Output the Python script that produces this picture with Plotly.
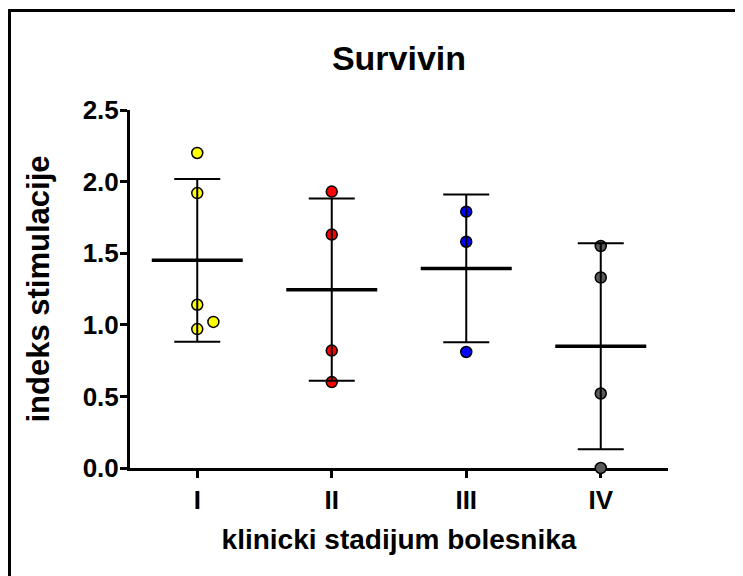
import numpy as np
import plotly.graph_objects as go

# ---- data ----
stages = ["I", "II", "III", "IV"]
stage_pos = [1, 2, 3, 4]
values_I = [2.20, 1.92, 1.14, 0.97, 1.02]
values_II = [1.93, 1.63, 0.82, 0.60]
values_III = [1.79, 1.58, 0.81]
values_IV = [1.55, 1.33, 0.52, 0.0]
jitter_I = [0, 0, 0, 0, 0.12]
jitter_II = [0, 0, 0, 0]
jitter_III = [0, 0, 0]
jitter_IV = [0, 0, 0, 0]
colors = ["#FFFF00", "#FF0000", "#0000FF", "#5A5A5A"]
y_ticks = [0.0, 0.5, 1.0, 1.5, 2.0, 2.5]

groups = [values_I, values_II, values_III, values_IV]
jitters = [jitter_I, jitter_II, jitter_III, jitter_IV]

FONT = "Arial, 'Liberation Sans', Helvetica, sans-serif"
W, H = 735, 568

fig = go.Figure()

# points
for pos, vals, jit, col in zip(stage_pos, groups, jitters, colors):
    fig.add_trace(go.Scatter(
        x=[pos + j for j in jit], y=vals, mode="markers",
        marker=dict(size=11, color=col, line=dict(color="black", width=1.5)),
        cliponaxis=False, showlegend=False, hoverinfo="y"))

# mean +/- SD
means = [float(np.mean(v)) for v in groups]
sds = [float(np.std(v, ddof=1)) for v in groups]
fig.add_trace(go.Scatter(
    x=stage_pos, y=means, mode="markers",
    marker=dict(symbol="line-ew", size=65, color="black",
                line=dict(color="black", width=3.5)),
    error_y=dict(type="data", array=sds, visible=True, color="black",
                 thickness=2, width=23),
    cliponaxis=False, showlegend=False, hoverinfo="y"))

fig.update_layout(
    width=W, height=H,
    margin=dict(l=122, r=75, t=102, b=108),
    paper_bgcolor="white", plot_bgcolor="white",
    font=dict(family=FONT, color="black"),
    title=dict(text="<b>Survivin</b>", x=0.5, xref="paper",
               y=1 - 50 / H, yref="container", yanchor="middle",
               font=dict(size=34, family=FONT, color="black")),
    xaxis=dict(range=[0.5, 4.5], tickmode="array", tickvals=stage_pos,
               ticktext=["<b>%s</b>" % s for s in stages],
               showline=True, linecolor="black", linewidth=3,
               ticks="outside", ticklen=7, tickwidth=2.5, tickcolor="black",
               showgrid=False, zeroline=False, layer="below traces",
               tickfont=dict(size=26, family=FONT, color="black"),
               title=dict(text="<b>klinicki stadijum bolesnika</b>",
                          font=dict(size=28, family=FONT, color="black"),
                          standoff=16)),
    yaxis=dict(range=[0, 2.5], tickmode="array", tickvals=y_ticks,
               ticktext=["<b>%.1f</b>" % v for v in y_ticks],
               showline=True, linecolor="black", linewidth=3,
               ticks="outside", ticklen=7, tickwidth=2.5, tickcolor="black",
               ticklabelstandoff=-4,
               showgrid=False, zeroline=False, layer="below traces",
               tickfont=dict(size=26, family=FONT, color="black"),
               title=dict(text="<b>indeks stimulacije</b>",
                          font=dict(size=31, family=FONT, color="black"),
                          standoff=24)),
)

# frame around the figure (top and left edges visible in the reference)
fig.add_shape(type="rect", xref="paper", yref="paper",
              x0=(1.5 - 122) / 538, x1=(760 - 122) / 538,
              y0=(460 - 600) / 358, y1=(460 - 2.5) / 358,
              line=dict(color="black", width=3), fillcolor="rgba(0,0,0,0)",
              layer="below")

fig.write_html("out.html")
